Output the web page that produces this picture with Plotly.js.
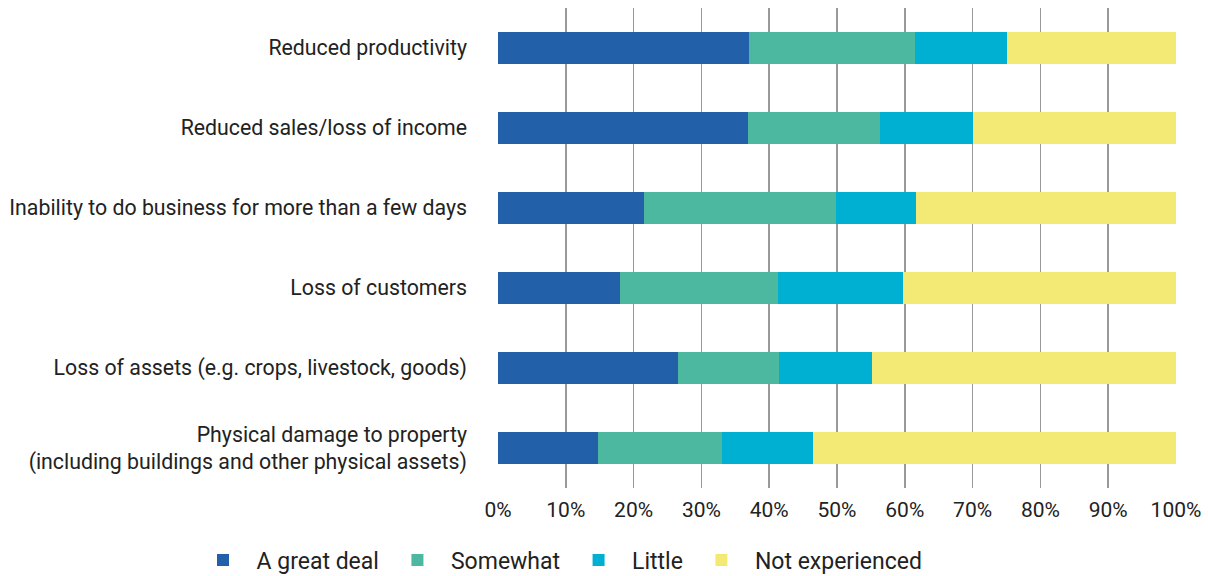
<!DOCTYPE html>
<html>
<head>
<meta charset="utf-8">
<script src="https://cdn.plot.ly/plotly-3.0.1.min.js"></script>
<style>html,body{margin:0;padding:0;background:#fff;}#chart{width:1208px;height:576px;}</style>
</head>
<body>
<div id="chart"></div>
<script>
var categories = [
  "Reduced productivity",
  "Reduced sales/loss of income",
  "Inability to do business for more than a few days",
  "Loss of customers",
  "Loss of assets (e.g. crops, livestock, goods)",
  "Physical damage to property<br>(including buildings and other physical assets)"
];
var greatDeal = [37.0, 36.8, 21.5, 18.0, 26.5, 14.8];
var somewhat = [24.5, 19.6, 28.3, 23.3, 14.9, 18.2];
var little = [13.5, 13.6, 11.9, 18.4, 13.8, 13.5];
var notExperienced = [25.0, 30.0, 38.3, 40.3, 44.8, 53.5];
var seriesNames = ["A great deal", "Somewhat", "Little", "Not experienced"];
var seriesColors = ["#2261aa", "#4db8a0", "#00b0d2", "#f3ea75"];
var tickVals = [0, 10, 20, 30, 40, 50, 60, 70, 80, 90, 100];
var tickText = ["0%", "10%", "20%", "30%", "40%", "50%", "60%", "70%", "80%", "90%", "100%"];

var allSeries = [greatDeal, somewhat, little, notExperienced];
var traces = allSeries.map(function (vals, i) {
  return {
    type: "bar",
    orientation: "h",
    name: seriesNames[i],
    x: vals,
    y: categories,
    marker: { color: seriesColors[i], line: { width: 0 } },
    width: 0.4,
    hoverinfo: "x+name"
  };
});

var layout = {
  width: 1208,
  height: 576,
  barmode: "stack",
  paper_bgcolor: "#ffffff",
  plot_bgcolor: "#ffffff",
  margin: { l: 498, r: 32, t: 8, b: 88, autoexpand: false },
  font: { family: "Roboto, 'Noto Sans', sans-serif", color: "#222222" },
  xaxis: {
    range: [0, 100],
    tickvals: tickVals,
    ticktext: tickText,
    showgrid: true,
    gridcolor: "#999999",
    gridwidth: 1.5,
    zeroline: false,
    showline: false,
    tickfont: { size: 21, color: "#222222" },
    ticks: "",
    ticklabelstandoff: 7,
    automargin: false,
    fixedrange: true
  },
  yaxis: {
    autorange: "reversed",
    tickfont: { size: 21.3, color: "#222222" },
    ticks: "",
    showgrid: false,
    zeroline: false,
    ticklabelstandoff: 30,
    automargin: false,
    fixedrange: true
  },
  showlegend: true,
  legend: {
    orientation: "h",
    x: -0.455,
    xanchor: "left",
    y: -0.15,
    yanchor: "middle",
    font: { size: 23, color: "#222222" },
    itemwidth: 57,
    traceorder: "normal"
  }
};

Plotly.newPlot("chart", traces, layout, { displayModeBar: false, staticPlot: true });
</script>
</body>
</html>
